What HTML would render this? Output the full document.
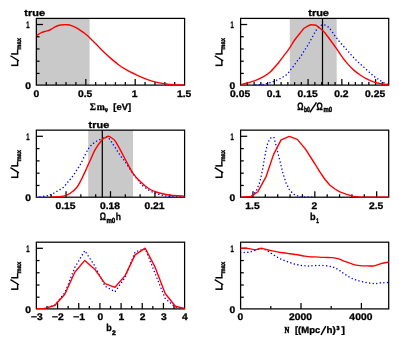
<!DOCTYPE html>
<html><head><meta charset="utf-8"><title>Likelihood panels</title><style>
html,body{margin:0;padding:0;background:#fff}
svg{display:block;will-change:transform}
.t{font-family:"Liberation Sans", sans-serif;font-weight:bold;font-size:9.6px;fill:#000;stroke:#000;stroke-width:0.3px}
.sub{font-size:6.5px}
.tt{font-size:9.4px}
.xl{font-size:9.2px}
.fr{fill:none;stroke:#000;stroke-width:1.25}
.tk{fill:none;stroke:#000;stroke-width:1.25}
.tl{fill:none;stroke:#000;stroke-width:1.25}
.r{fill:none;stroke:#f00;stroke-width:1.4;stroke-linejoin:round}
.b{fill:none;stroke:#00f;stroke-width:1.5;stroke-linecap:round;stroke-dasharray:0.01 3.6}
</style></head><body>
<svg width="399" height="345" viewBox="0 0 399 345">
<rect width="399" height="345" fill="#fff"/>
<defs>
<clipPath id="c0"><rect x="36.35" y="17.40" width="148.85" height="68.30"/></clipPath>
<clipPath id="c1"><rect x="240.60" y="17.40" width="148.70" height="68.30"/></clipPath>
<clipPath id="c2"><rect x="36.35" y="129.15" width="148.85" height="68.65"/></clipPath>
<clipPath id="c3"><rect x="240.60" y="129.15" width="148.70" height="68.65"/></clipPath>
<clipPath id="c4"><rect x="36.35" y="241.20" width="148.85" height="68.30"/></clipPath>
<clipPath id="c5"><rect x="240.60" y="241.20" width="148.70" height="68.30"/></clipPath>
</defs>
<rect fill="#c9c9c9" x="36.40" y="18.40" width="53.20" height="66.70"/>
<path class="tk" d="M46.28 85.10 v-3"/>
<path class="tk" d="M56.16 85.10 v-3"/>
<path class="tk" d="M66.04 85.10 v-3"/>
<path class="tk" d="M75.92 85.10 v-3"/>
<path class="tk" d="M95.68 85.10 v-3"/>
<path class="tk" d="M105.56 85.10 v-3"/>
<path class="tk" d="M115.44 85.10 v-3"/>
<path class="tk" d="M125.32 85.10 v-3"/>
<path class="tk" d="M145.08 85.10 v-3"/>
<path class="tk" d="M154.96 85.10 v-3"/>
<path class="tk" d="M164.84 85.10 v-3"/>
<path class="tk" d="M174.72 85.10 v-3"/>
<path class="tk" d="M85.80 85.10 v-6"/>
<path class="tk" d="M135.20 85.10 v-6"/>
<text class="t" transform="translate(36.30 96.90) skewX(0.5) scale(1.080 1)" text-anchor="middle">0</text>
<text class="t" transform="translate(85.10 96.90) skewX(0.5) scale(1.080 1)" text-anchor="middle">0.5</text>
<text class="t" transform="translate(134.70 96.90) skewX(0.5) scale(1.080 1)" text-anchor="middle">1</text>
<text class="t" transform="translate(184.10 96.90) skewX(0.5) scale(1.080 1)" text-anchor="middle">1.5</text>
<path class="tk" d="M36.35 73.42 h3.2"/>
<path class="tk" d="M36.35 61.20 h3.2"/>
<path class="tk" d="M36.35 48.97 h3.2"/>
<path class="tk" d="M36.35 36.74 h3.2"/>
<path class="tk" d="M36.35 24.51 h6.6"/>
<text class="t" transform="translate(29.65 27.76) skewX(0.5) scale(0.620 1)" text-anchor="end">1</text>
<text class="t" transform="translate(30.95 88.80) skewX(0.5) scale(1.080 1)" text-anchor="end">0</text>
<path d="M11.15 65.35 L18.25 65.35" style="fill:none;stroke:#000;stroke-width:1.55"/>
<path d="M17.60 65.35 L17.60 60.35" style="fill:none;stroke:#000;stroke-width:1.40"/>
<path d="M11.15 53.95 L18.25 53.95" style="fill:none;stroke:#000;stroke-width:1.55"/>
<path d="M17.60 53.95 L17.60 49.35" style="fill:none;stroke:#000;stroke-width:1.40"/>
<path d="M10.45 55.75 L18.95 60.95" style="fill:none;stroke:#000;stroke-width:1.45"/>
<g transform="translate(21.15 49.65) rotate(-90)">
<text transform="translate(0.00 0.00) skewX(0.5)" style="font-family:'Liberation Sans', sans-serif;font-weight:bold;font-size:6.70px;stroke:#000;stroke-width:0.40px" textLength="11.60" lengthAdjust="spacingAndGlyphs">max</text>
</g>
<rect class="fr" x="36.35" y="18.40" width="148.25" height="66.70"/>
<g clip-path="url(#c0)">
<path class="r" d="M36.40 35.60 C37.32 35.07 40.30 33.13 41.90 32.40 C43.50 31.67 44.68 31.60 46.00 31.20 C47.32 30.80 48.18 30.77 49.80 30.00 C51.42 29.23 54.08 27.40 55.70 26.60 C57.32 25.80 58.18 25.52 59.50 25.20 C60.82 24.88 62.27 24.77 63.60 24.70 C64.93 24.63 66.20 24.65 67.50 24.80 C68.80 24.95 70.07 25.18 71.40 25.60 C72.73 26.02 74.13 26.60 75.50 27.30 C76.87 28.00 78.23 28.92 79.60 29.80 C80.97 30.68 82.37 31.62 83.70 32.60 C85.03 33.58 85.63 33.87 87.60 35.70 C89.57 37.53 92.88 40.97 95.50 43.60 C98.12 46.23 100.75 49.03 103.30 51.50 C105.85 53.97 108.15 56.12 110.80 58.40 C113.45 60.68 116.50 63.23 119.20 65.20 C121.90 67.17 124.40 68.72 127.00 70.20 C129.60 71.68 132.22 72.87 134.80 74.10 C137.38 75.33 139.90 76.52 142.50 77.60 C145.10 78.68 147.78 79.77 150.40 80.60 C153.02 81.43 155.58 82.03 158.20 82.60 C160.82 83.17 163.47 83.65 166.10 84.00 C168.73 84.35 170.92 84.52 174.00 84.70 C177.08 84.88 182.83 85.03 184.60 85.10"/>
</g>
<text class="t tt" transform="translate(34.70 15.50) skewX(0.5) scale(1.170 1)" text-anchor="middle">true</text>
<text transform="translate(89.80 109.65) skewX(0.5)" style="font-family:'Liberation Serif', serif;font-weight:bold;font-size:10.00px;stroke:#000;stroke-width:0.30px" textLength="6.20" lengthAdjust="spacingAndGlyphs">&#931;</text>
<text transform="translate(96.65 109.65) skewX(0.5)" style="font-family:'Liberation Serif', serif;font-weight:bold;font-size:10.00px;stroke:#000;stroke-width:0.30px" textLength="8.15" lengthAdjust="spacingAndGlyphs">m</text>
<text transform="translate(104.90 111.50) skewX(0.5)" style="font-family:'Liberation Sans', sans-serif;font-weight:bold;font-size:6.50px;stroke:#000;stroke-width:0.60px" textLength="2.80" lengthAdjust="spacingAndGlyphs">&#957;</text>
<text transform="translate(113.30 109.65) skewX(0.5)" style="font-family:'Liberation Sans', sans-serif;font-weight:bold;font-size:9.20px;stroke:#000;stroke-width:0.30px" textLength="17.80" lengthAdjust="spacingAndGlyphs">[eV]</text>
<rect fill="#c9c9c9" x="289.80" y="18.40" width="46.90" height="66.70"/>
<path class="tk" d="M247.35 85.10 v-3"/>
<path class="tk" d="M254.10 85.10 v-3"/>
<path class="tk" d="M260.85 85.10 v-3"/>
<path class="tk" d="M267.60 85.10 v-3"/>
<path class="tk" d="M281.10 85.10 v-3"/>
<path class="tk" d="M287.85 85.10 v-3"/>
<path class="tk" d="M294.60 85.10 v-3"/>
<path class="tk" d="M301.35 85.10 v-3"/>
<path class="tk" d="M314.85 85.10 v-3"/>
<path class="tk" d="M321.60 85.10 v-3"/>
<path class="tk" d="M328.35 85.10 v-3"/>
<path class="tk" d="M335.10 85.10 v-3"/>
<path class="tk" d="M348.60 85.10 v-3"/>
<path class="tk" d="M355.35 85.10 v-3"/>
<path class="tk" d="M362.10 85.10 v-3"/>
<path class="tk" d="M368.85 85.10 v-3"/>
<path class="tk" d="M382.35 85.10 v-3"/>
<path class="tk" d="M274.35 85.10 v-6"/>
<path class="tk" d="M308.10 85.10 v-6"/>
<path class="tk" d="M341.85 85.10 v-6"/>
<path class="tk" d="M375.60 85.10 v-6"/>
<text class="t" transform="translate(240.10 96.90) skewX(0.5) scale(1.080 1)" text-anchor="middle">0.05</text>
<text class="t" transform="translate(273.85 96.90) skewX(0.5) scale(1.080 1)" text-anchor="middle">0.1</text>
<text class="t" transform="translate(307.60 96.90) skewX(0.5) scale(1.080 1)" text-anchor="middle">0.15</text>
<text class="t" transform="translate(341.35 96.90) skewX(0.5) scale(1.080 1)" text-anchor="middle">0.2</text>
<text class="t" transform="translate(375.10 96.90) skewX(0.5) scale(1.080 1)" text-anchor="middle">0.25</text>
<path class="tk" d="M240.60 73.42 h3.2"/>
<path class="tk" d="M240.60 61.20 h3.2"/>
<path class="tk" d="M240.60 48.97 h3.2"/>
<path class="tk" d="M240.60 36.74 h3.2"/>
<path class="tk" d="M240.60 24.51 h6.6"/>
<text class="t" transform="translate(233.90 27.76) skewX(0.5) scale(0.620 1)" text-anchor="end">1</text>
<text class="t" transform="translate(235.20 88.80) skewX(0.5) scale(1.080 1)" text-anchor="end">0</text>
<path d="M215.40 65.35 L222.50 65.35" style="fill:none;stroke:#000;stroke-width:1.55"/>
<path d="M221.85 65.35 L221.85 60.35" style="fill:none;stroke:#000;stroke-width:1.40"/>
<path d="M215.40 53.95 L222.50 53.95" style="fill:none;stroke:#000;stroke-width:1.55"/>
<path d="M221.85 53.95 L221.85 49.35" style="fill:none;stroke:#000;stroke-width:1.40"/>
<path d="M214.70 55.75 L223.20 60.95" style="fill:none;stroke:#000;stroke-width:1.45"/>
<g transform="translate(225.40 49.65) rotate(-90)">
<text transform="translate(0.00 0.00) skewX(0.5)" style="font-family:'Liberation Sans', sans-serif;font-weight:bold;font-size:6.70px;stroke:#000;stroke-width:0.40px" textLength="11.60" lengthAdjust="spacingAndGlyphs">max</text>
</g>
<path class="tl" d="M322.50 18.40 V85.10"/>
<text class="t tt" transform="translate(318.60 15.50) skewX(0.5) scale(1.170 1)" text-anchor="middle">true</text>
<rect class="fr" x="240.60" y="18.40" width="148.10" height="66.70"/>
<g clip-path="url(#c1)">
<path class="b" d="M255.80 85.10 C257.07 85.00 261.52 84.75 263.40 84.50 C265.28 84.25 265.85 83.93 267.10 83.60 C268.35 83.27 269.63 82.93 270.90 82.50 C272.17 82.07 273.18 81.63 274.70 81.00 C276.22 80.37 278.50 79.45 280.00 78.70 C281.50 77.95 282.57 77.20 283.70 76.50 C284.83 75.80 285.92 75.25 286.80 74.50 C287.68 73.75 288.25 72.95 289.00 72.00 C289.75 71.05 290.55 69.77 291.30 68.80 C292.05 67.83 292.75 67.18 293.50 66.20 C294.25 65.22 295.03 63.95 295.80 62.90 C296.57 61.85 297.43 60.75 298.10 59.90 C298.77 59.05 298.85 59.20 299.80 57.80 C300.75 56.40 302.45 53.62 303.80 51.50 C305.15 49.38 306.53 47.40 307.90 45.10 C309.27 42.80 310.62 40.20 312.00 37.70 C313.38 35.20 315.12 31.82 316.20 30.10 C317.28 28.38 317.75 28.17 318.50 27.40 C319.25 26.63 319.83 25.93 320.70 25.50 C321.57 25.07 322.68 24.72 323.70 24.80 C324.72 24.88 325.78 25.37 326.80 26.00 C327.82 26.63 328.52 27.07 329.80 28.60 C331.08 30.13 332.97 33.13 334.50 35.20 C336.03 37.27 337.48 39.15 339.00 41.00 C340.52 42.85 342.08 44.58 343.60 46.30 C345.12 48.02 346.60 49.62 348.10 51.30 C349.60 52.98 351.10 54.77 352.60 56.40 C354.10 58.03 355.58 59.63 357.10 61.10 C358.62 62.57 360.18 63.82 361.70 65.20 C363.22 66.58 364.70 68.02 366.20 69.40 C367.70 70.78 369.20 72.20 370.70 73.50 C372.20 74.80 373.68 76.08 375.20 77.20 C376.72 78.32 378.28 79.23 379.80 80.20 C381.32 81.17 382.83 82.23 384.30 83.00 C385.77 83.77 387.88 84.50 388.60 84.80"/>
<path class="r" d="M240.60 84.80 C241.75 84.50 245.08 83.68 247.50 83.00 C249.92 82.32 252.58 81.67 255.10 80.70 C257.62 79.73 260.08 78.65 262.60 77.20 C265.12 75.75 267.68 74.25 270.20 72.00 C272.72 69.75 275.20 66.72 277.70 63.70 C280.20 60.68 283.23 56.48 285.20 53.90 C287.17 51.32 287.87 50.60 289.50 48.20 C291.13 45.80 293.25 42.00 295.00 39.50 C296.75 37.00 298.48 35.07 300.00 33.20 C301.52 31.33 302.85 29.47 304.10 28.30 C305.35 27.13 306.37 26.78 307.50 26.20 C308.63 25.62 309.82 25.00 310.90 24.80 C311.98 24.60 312.99 24.83 314.00 25.00 C315.01 25.17 315.95 25.27 316.95 25.80 C317.95 26.33 318.88 27.23 320.00 28.20 C321.12 29.17 322.45 30.25 323.70 31.60 C324.95 32.95 326.28 34.73 327.50 36.30 C328.72 37.87 329.58 39.08 331.00 41.00 C332.42 42.92 334.15 45.15 336.00 47.80 C337.85 50.45 340.08 54.13 342.10 56.90 C344.12 59.67 346.10 62.15 348.10 64.40 C350.10 66.65 352.08 68.63 354.10 70.40 C356.12 72.17 358.18 73.62 360.20 75.00 C362.22 76.38 364.20 77.65 366.20 78.70 C368.20 79.75 370.18 80.53 372.20 81.30 C374.22 82.07 376.28 82.80 378.30 83.30 C380.32 83.80 382.58 84.05 384.30 84.30 C386.02 84.55 387.88 84.72 388.60 84.80"/>
</g>
<text transform="translate(297.15 109.50) skewX(0.5)" style="font-family:'Liberation Sans', sans-serif;font-weight:bold;font-size:10.80px;stroke:#000;stroke-width:0.30px" textLength="6.30" lengthAdjust="spacingAndGlyphs">&#937;</text>
<text transform="translate(304.00 112.15) skewX(0.5)" style="font-family:'Liberation Sans', sans-serif;font-weight:bold;font-size:7.40px;stroke:#000;stroke-width:0.50px" textLength="5.90" lengthAdjust="spacingAndGlyphs">b0</text>
<path d="M309.90 112.30 L316.50 102.30" style="fill:none;stroke:#000;stroke-width:1.50"/>
<text transform="translate(316.60 109.50) skewX(0.5)" style="font-family:'Liberation Sans', sans-serif;font-weight:bold;font-size:10.80px;stroke:#000;stroke-width:0.30px" textLength="6.30" lengthAdjust="spacingAndGlyphs">&#937;</text>
<text transform="translate(323.50 112.15) skewX(0.5)" style="font-family:'Liberation Sans', sans-serif;font-weight:bold;font-size:7.40px;stroke:#000;stroke-width:0.50px" textLength="8.60" lengthAdjust="spacingAndGlyphs">m0</text>
<rect fill="#c9c9c9" x="88.20" y="130.15" width="44.80" height="67.05"/>
<path class="tk" d="M51.22 197.20 v-3"/>
<path class="tk" d="M80.86 197.20 v-3"/>
<path class="tk" d="M95.68 197.20 v-3"/>
<path class="tk" d="M125.32 197.20 v-3"/>
<path class="tk" d="M140.14 197.20 v-3"/>
<path class="tk" d="M169.78 197.20 v-3"/>
<path class="tk" d="M66.04 197.20 v-6"/>
<path class="tk" d="M110.50 197.20 v-6"/>
<path class="tk" d="M154.96 197.20 v-6"/>
<text class="t" transform="translate(65.54 208.65) skewX(0.5) scale(1.080 1)" text-anchor="middle">0.15</text>
<text class="t" transform="translate(110.00 208.65) skewX(0.5) scale(1.080 1)" text-anchor="middle">0.18</text>
<text class="t" transform="translate(154.46 208.65) skewX(0.5) scale(1.080 1)" text-anchor="middle">0.21</text>
<path class="tk" d="M36.35 185.46 h3.2"/>
<path class="tk" d="M36.35 173.17 h3.2"/>
<path class="tk" d="M36.35 160.88 h3.2"/>
<path class="tk" d="M36.35 148.59 h3.2"/>
<path class="tk" d="M36.35 136.30 h6.6"/>
<text class="t" transform="translate(29.65 139.55) skewX(0.5) scale(0.620 1)" text-anchor="end">1</text>
<text class="t" transform="translate(30.95 200.90) skewX(0.5) scale(1.080 1)" text-anchor="end">0</text>
<path d="M11.15 177.28 L18.25 177.28" style="fill:none;stroke:#000;stroke-width:1.55"/>
<path d="M17.60 177.28 L17.60 172.28" style="fill:none;stroke:#000;stroke-width:1.40"/>
<path d="M11.15 165.88 L18.25 165.88" style="fill:none;stroke:#000;stroke-width:1.55"/>
<path d="M17.60 165.88 L17.60 161.28" style="fill:none;stroke:#000;stroke-width:1.40"/>
<path d="M10.45 167.68 L18.95 172.88" style="fill:none;stroke:#000;stroke-width:1.45"/>
<g transform="translate(21.15 161.58) rotate(-90)">
<text transform="translate(0.00 0.00) skewX(0.5)" style="font-family:'Liberation Sans', sans-serif;font-weight:bold;font-size:6.70px;stroke:#000;stroke-width:0.40px" textLength="11.60" lengthAdjust="spacingAndGlyphs">max</text>
</g>
<path class="tl" d="M102.30 130.15 V197.20"/>
<text class="t tt" transform="translate(99.00 127.95) skewX(0.5) scale(1.170 1)" text-anchor="middle">true</text>
<rect class="fr" x="36.35" y="130.15" width="148.25" height="67.05"/>
<g clip-path="url(#c2)">
<path class="b" d="M36.40 197.00 C37.84 196.85 42.60 196.50 45.05 196.10 C47.50 195.70 49.09 195.42 51.10 194.60 C53.11 193.78 55.10 192.38 57.10 191.20 C59.10 190.02 61.33 189.00 63.10 187.50 C64.87 186.00 66.18 183.97 67.70 182.20 C69.22 180.43 70.70 178.92 72.20 176.90 C73.70 174.88 75.30 172.23 76.70 170.10 C78.10 167.97 79.20 166.63 80.60 164.10 C82.00 161.57 83.72 157.58 85.10 154.90 C86.48 152.22 87.62 149.85 88.90 148.00 C90.18 146.15 91.27 145.07 92.80 143.80 C94.33 142.53 96.22 141.40 98.10 140.40 C99.98 139.40 102.70 138.37 104.10 137.80 C105.50 137.23 105.77 137.00 106.50 137.00 C107.23 137.00 107.63 136.92 108.50 137.80 C109.37 138.68 110.42 140.42 111.70 142.30 C112.98 144.18 114.70 146.83 116.20 149.10 C117.70 151.37 119.15 153.72 120.70 155.90 C122.25 158.08 123.98 160.03 125.50 162.20 C127.02 164.37 128.38 166.73 129.80 168.90 C131.22 171.07 132.50 173.22 134.00 175.20 C135.50 177.18 137.62 179.33 138.80 180.80 C139.98 182.27 139.47 182.47 141.10 184.00 C142.73 185.53 146.08 188.42 148.60 190.00 C151.12 191.58 153.68 192.58 156.20 193.50 C158.72 194.42 161.20 195.00 163.70 195.50 C166.20 196.00 167.72 196.25 171.20 196.50 C174.68 196.75 182.37 196.92 184.60 197.00"/>
<path class="r" d="M51.10 197.00 C53.10 196.85 59.97 196.68 63.10 196.10 C66.23 195.52 67.63 194.93 69.90 193.50 C72.17 192.07 74.80 189.82 76.70 187.50 C78.60 185.18 79.78 182.50 81.30 179.60 C82.82 176.70 84.63 172.63 85.80 170.10 C86.97 167.57 87.55 166.03 88.30 164.40 C89.05 162.77 89.13 162.80 90.30 160.30 C91.47 157.80 93.32 152.82 95.30 149.40 C97.28 145.98 100.53 141.77 102.20 139.80 C103.87 137.83 104.27 138.18 105.30 137.60 C106.33 137.02 107.37 136.27 108.40 136.30 C109.43 136.33 110.33 136.97 111.50 137.80 C112.67 138.63 113.87 139.17 115.40 141.30 C116.93 143.43 118.87 147.23 120.70 150.60 C122.53 153.97 124.32 157.67 126.40 161.50 C128.48 165.33 130.85 170.22 133.20 173.60 C135.55 176.98 137.93 179.32 140.50 181.80 C143.07 184.28 145.98 186.80 148.60 188.50 C151.22 190.20 153.68 191.08 156.20 192.00 C158.72 192.92 161.20 193.47 163.70 194.00 C166.20 194.53 167.72 194.85 171.20 195.20 C174.68 195.55 182.37 195.95 184.60 196.10"/>
</g>
<text transform="translate(99.80 220.40) skewX(0.5)" style="font-family:'Liberation Sans', sans-serif;font-weight:bold;font-size:10.80px;stroke:#000;stroke-width:0.30px" textLength="6.30" lengthAdjust="spacingAndGlyphs">&#937;</text>
<text transform="translate(106.40 223.30) skewX(0.5)" style="font-family:'Liberation Sans', sans-serif;font-weight:bold;font-size:7.40px;stroke:#000;stroke-width:0.50px" textLength="8.90" lengthAdjust="spacingAndGlyphs">m0</text>
<text transform="translate(115.80 220.40) skewX(0.5)" style="font-family:'Liberation Sans', sans-serif;font-weight:bold;font-size:10.00px;stroke:#000;stroke-width:0.30px" textLength="5.30" lengthAdjust="spacingAndGlyphs">h</text>
<path class="tk" d="M265.34 197.20 v-3"/>
<path class="tk" d="M277.71 197.20 v-3"/>
<path class="tk" d="M290.08 197.20 v-3"/>
<path class="tk" d="M302.45 197.20 v-3"/>
<path class="tk" d="M327.19 197.20 v-3"/>
<path class="tk" d="M339.56 197.20 v-3"/>
<path class="tk" d="M351.93 197.20 v-3"/>
<path class="tk" d="M364.30 197.20 v-3"/>
<path class="tk" d="M252.97 197.20 v-6"/>
<path class="tk" d="M314.82 197.20 v-6"/>
<path class="tk" d="M376.67 197.20 v-6"/>
<text class="t" transform="translate(252.47 208.65) skewX(0.5) scale(1.080 1)" text-anchor="middle">1.5</text>
<text class="t" transform="translate(314.32 208.65) skewX(0.5) scale(1.080 1)" text-anchor="middle">2</text>
<text class="t" transform="translate(376.17 208.65) skewX(0.5) scale(1.080 1)" text-anchor="middle">2.5</text>
<path class="tk" d="M240.60 185.46 h3.2"/>
<path class="tk" d="M240.60 173.17 h3.2"/>
<path class="tk" d="M240.60 160.88 h3.2"/>
<path class="tk" d="M240.60 148.59 h3.2"/>
<path class="tk" d="M240.60 136.30 h6.6"/>
<text class="t" transform="translate(233.90 139.55) skewX(0.5) scale(0.620 1)" text-anchor="end">1</text>
<text class="t" transform="translate(235.20 200.90) skewX(0.5) scale(1.080 1)" text-anchor="end">0</text>
<path d="M215.40 177.28 L222.50 177.28" style="fill:none;stroke:#000;stroke-width:1.55"/>
<path d="M221.85 177.28 L221.85 172.28" style="fill:none;stroke:#000;stroke-width:1.40"/>
<path d="M215.40 165.88 L222.50 165.88" style="fill:none;stroke:#000;stroke-width:1.55"/>
<path d="M221.85 165.88 L221.85 161.28" style="fill:none;stroke:#000;stroke-width:1.40"/>
<path d="M214.70 167.68 L223.20 172.88" style="fill:none;stroke:#000;stroke-width:1.45"/>
<g transform="translate(225.40 161.58) rotate(-90)">
<text transform="translate(0.00 0.00) skewX(0.5)" style="font-family:'Liberation Sans', sans-serif;font-weight:bold;font-size:6.70px;stroke:#000;stroke-width:0.40px" textLength="11.60" lengthAdjust="spacingAndGlyphs">max</text>
</g>
<rect class="fr" x="240.60" y="130.15" width="148.10" height="67.05"/>
<g clip-path="url(#c3)">
<path class="b" d="M251.2 196.9 L256.2 191.2 L259.9 181.8 L262.3 171.0 L264.1 160.4 L265.9 150.6 L267.9 142.3 L270.9 137.8 L273.9 137.3 L276.2 146.1 L277.9 153.0 L280.4 163.1 L282.9 173.0 L286.1 183.0 L289.8 190.5 L294.8 195.0 L301.0 196.9 L314.5 197.1" stroke-dashoffset="1.8"/>
<path class="r" d="M240.6 197.2 L251.2 196.4 L257.9 191.7 L266.2 176.3 L273.6 154.4 L281.1 139.9 L289.3 136.4 L297.3 139.4 L305.3 148.9 L315.0 164.0 L320.0 172.2 L325.0 179.5 L330.0 185.2 L334.9 189.0 L339.9 191.8 L346.1 194.2 L352.4 196.1 L359.9 197.1 L389.0 197.2"/>
</g>
<text transform="translate(310.05 220.00) skewX(0.5)" style="font-family:'Liberation Sans', sans-serif;font-weight:bold;font-size:10.00px;stroke:#000;stroke-width:0.30px" textLength="5.65" lengthAdjust="spacingAndGlyphs">b</text>
<text transform="translate(316.20 223.30) skewX(0.5)" style="font-family:'Liberation Sans', sans-serif;font-weight:bold;font-size:6.70px;stroke:#000;stroke-width:0.50px" textLength="2.60" lengthAdjust="spacingAndGlyphs">1</text>
<path class="tk" d="M46.99 308.90 v-3"/>
<path class="tk" d="M68.16 308.90 v-3"/>
<path class="tk" d="M89.33 308.90 v-3"/>
<path class="tk" d="M110.50 308.90 v-3"/>
<path class="tk" d="M131.67 308.90 v-3"/>
<path class="tk" d="M152.84 308.90 v-3"/>
<path class="tk" d="M174.01 308.90 v-3"/>
<path class="tk" d="M57.57 308.90 v-6"/>
<path class="tk" d="M78.74 308.90 v-6"/>
<path class="tk" d="M99.91 308.90 v-6"/>
<path class="tk" d="M121.09 308.90 v-6"/>
<path class="tk" d="M142.26 308.90 v-6"/>
<path class="tk" d="M163.43 308.90 v-6"/>
<text class="t" transform="translate(36.80 320.35) skewX(0.5) scale(1.080 1)" text-anchor="middle">&#8722;3</text>
<text class="t" transform="translate(57.97 320.35) skewX(0.5) scale(1.080 1)" text-anchor="middle">&#8722;2</text>
<text class="t" transform="translate(79.14 320.35) skewX(0.5) scale(1.080 1)" text-anchor="middle">&#8722;1</text>
<text class="t" transform="translate(100.31 320.35) skewX(0.5) scale(1.080 1)" text-anchor="middle">0</text>
<text class="t" transform="translate(121.49 320.35) skewX(0.5) scale(1.080 1)" text-anchor="middle">1</text>
<text class="t" transform="translate(142.66 320.35) skewX(0.5) scale(1.080 1)" text-anchor="middle">2</text>
<text class="t" transform="translate(163.83 320.35) skewX(0.5) scale(1.080 1)" text-anchor="middle">3</text>
<text class="t" transform="translate(185.00 320.35) skewX(0.5) scale(1.080 1)" text-anchor="middle">4</text>
<path class="tk" d="M36.35 297.22 h3.2"/>
<path class="tk" d="M36.35 285.00 h3.2"/>
<path class="tk" d="M36.35 272.77 h3.2"/>
<path class="tk" d="M36.35 260.54 h3.2"/>
<path class="tk" d="M36.35 248.31 h6.6"/>
<text class="t" transform="translate(29.65 251.56) skewX(0.5) scale(0.620 1)" text-anchor="end">1</text>
<text class="t" transform="translate(30.95 312.60) skewX(0.5) scale(1.080 1)" text-anchor="end">0</text>
<path d="M11.15 289.15 L18.25 289.15" style="fill:none;stroke:#000;stroke-width:1.55"/>
<path d="M17.60 289.15 L17.60 284.15" style="fill:none;stroke:#000;stroke-width:1.40"/>
<path d="M11.15 277.75 L18.25 277.75" style="fill:none;stroke:#000;stroke-width:1.55"/>
<path d="M17.60 277.75 L17.60 273.15" style="fill:none;stroke:#000;stroke-width:1.40"/>
<path d="M10.45 279.55 L18.95 284.75" style="fill:none;stroke:#000;stroke-width:1.45"/>
<g transform="translate(21.15 273.45) rotate(-90)">
<text transform="translate(0.00 0.00) skewX(0.5)" style="font-family:'Liberation Sans', sans-serif;font-weight:bold;font-size:6.70px;stroke:#000;stroke-width:0.40px" textLength="11.60" lengthAdjust="spacingAndGlyphs">max</text>
</g>
<rect class="fr" x="36.35" y="242.20" width="148.25" height="66.70"/>
<g clip-path="url(#c4)">
<path class="b" d="M44.7 308.6 L54.7 305.2 L64.8 292.8 L74.8 267.4 L84.8 250.7 L94.9 266.1 L105.0 286.1 L115.0 291.8 L125.1 277.3 L135.1 251.9 L145.2 248.7 L155.2 273.6 L165.2 298.5 L175.3 307.2 L185.3 308.9"/>
<path class="r" d="M34.6 308.7 L44.7 308.4 L54.7 305.5 L64.8 294.3 L74.8 272.3 L84.8 260.4 L94.9 269.4 L105.0 283.6 L115.0 287.3 L125.1 275.6 L135.1 254.9 L145.2 248.2 L155.2 267.4 L165.2 293.5 L175.3 306.2 L185.3 308.6"/>
</g>
<text transform="translate(106.30 331.40) skewX(0.5)" style="font-family:'Liberation Sans', sans-serif;font-weight:bold;font-size:10.00px;stroke:#000;stroke-width:0.30px" textLength="5.50" lengthAdjust="spacingAndGlyphs">b</text>
<text transform="translate(111.90 334.50) skewX(0.5)" style="font-family:'Liberation Sans', sans-serif;font-weight:bold;font-size:6.70px;stroke:#000;stroke-width:0.50px" textLength="3.80" lengthAdjust="spacingAndGlyphs">2</text>
<path class="tk" d="M270.80 308.90 v-3"/>
<path class="tk" d="M331.20 308.90 v-3"/>
<path class="tk" d="M301.00 308.90 v-6"/>
<path class="tk" d="M361.40 308.90 v-6"/>
<text class="t" transform="translate(240.50 320.35) skewX(0.5) scale(1.080 1)" text-anchor="middle">0</text>
<text class="t" transform="translate(300.50 320.35) skewX(0.5) scale(1.080 1)" text-anchor="middle">2000</text>
<text class="t" transform="translate(360.90 320.35) skewX(0.5) scale(1.080 1)" text-anchor="middle">4000</text>
<path class="tk" d="M240.60 297.22 h3.2"/>
<path class="tk" d="M240.60 285.00 h3.2"/>
<path class="tk" d="M240.60 272.77 h3.2"/>
<path class="tk" d="M240.60 260.54 h3.2"/>
<path class="tk" d="M240.60 248.31 h6.6"/>
<text class="t" transform="translate(233.90 251.56) skewX(0.5) scale(0.620 1)" text-anchor="end">1</text>
<text class="t" transform="translate(235.20 312.60) skewX(0.5) scale(1.080 1)" text-anchor="end">0</text>
<path d="M215.40 289.15 L222.50 289.15" style="fill:none;stroke:#000;stroke-width:1.55"/>
<path d="M221.85 289.15 L221.85 284.15" style="fill:none;stroke:#000;stroke-width:1.40"/>
<path d="M215.40 277.75 L222.50 277.75" style="fill:none;stroke:#000;stroke-width:1.55"/>
<path d="M221.85 277.75 L221.85 273.15" style="fill:none;stroke:#000;stroke-width:1.40"/>
<path d="M214.70 279.55 L223.20 284.75" style="fill:none;stroke:#000;stroke-width:1.45"/>
<g transform="translate(225.40 273.45) rotate(-90)">
<text transform="translate(0.00 0.00) skewX(0.5)" style="font-family:'Liberation Sans', sans-serif;font-weight:bold;font-size:6.70px;stroke:#000;stroke-width:0.40px" textLength="11.60" lengthAdjust="spacingAndGlyphs">max</text>
</g>
<rect class="fr" x="240.60" y="242.20" width="148.10" height="66.70"/>
<g clip-path="url(#c5)">
<path class="b" d="M240.60 252.40 C241.75 252.40 245.32 252.65 247.50 252.40 C249.68 252.15 251.42 251.52 253.70 250.90 C255.98 250.28 258.92 248.70 261.20 248.70 C263.48 248.70 265.33 249.87 267.40 250.90 C269.47 251.93 271.52 253.62 273.60 254.90 C275.68 256.18 277.62 257.48 279.90 258.60 C282.18 259.72 284.82 260.68 287.30 261.60 C289.78 262.52 292.30 263.43 294.80 264.10 C297.30 264.77 300.02 265.30 302.30 265.60 C304.58 265.90 306.38 265.90 308.50 265.90 C310.62 265.90 312.47 265.65 315.00 265.60 C317.53 265.55 320.80 265.38 323.70 265.60 C326.60 265.82 329.90 266.18 332.40 266.90 C334.90 267.62 336.62 268.67 338.70 269.90 C340.78 271.13 342.62 272.85 344.90 274.30 C347.18 275.75 349.90 277.47 352.40 278.60 C354.90 279.73 357.42 280.43 359.90 281.10 C362.38 281.77 364.90 282.18 367.30 282.60 C369.70 283.02 372.02 283.57 374.30 283.60 C376.58 283.63 378.55 282.97 381.00 282.80 C383.45 282.63 387.67 282.63 389.00 282.60"/>
<path class="r" d="M240.60 248.40 C241.75 248.40 245.10 248.18 247.50 248.40 C249.90 248.62 253.25 249.57 255.00 249.70 C256.75 249.83 256.97 249.45 258.00 249.20 C259.03 248.95 260.20 248.25 261.20 248.20 C262.20 248.15 262.97 248.65 264.00 248.90 C265.03 249.15 265.58 249.28 267.40 249.70 C269.22 250.12 272.40 250.90 274.90 251.40 C277.40 251.90 279.92 252.32 282.40 252.70 C284.88 253.08 287.32 253.37 289.80 253.70 C292.28 254.03 294.80 254.30 297.30 254.70 C299.80 255.10 302.52 255.73 304.80 256.10 C307.08 256.47 309.30 256.77 311.00 256.90 C312.70 257.03 312.88 256.82 315.00 256.90 C317.12 256.98 320.80 257.28 323.70 257.40 C326.60 257.52 329.90 257.35 332.40 257.60 C334.90 257.85 336.62 258.27 338.70 258.90 C340.78 259.53 342.62 260.53 344.90 261.40 C347.18 262.27 349.90 263.40 352.40 264.10 C354.90 264.80 357.42 265.30 359.90 265.60 C362.38 265.90 364.90 265.85 367.30 265.90 C369.70 265.95 372.02 266.28 374.30 265.90 C376.58 265.52 378.55 264.27 381.00 263.60 C383.45 262.93 387.67 262.18 389.00 261.90"/>
</g>
<text transform="translate(284.40 333.10) skewX(0.5)" style="font-family:'Liberation Serif', serif;font-weight:bold;font-size:9.20px;stroke:#000;stroke-width:0.60px" textLength="4.80" lengthAdjust="spacingAndGlyphs">N</text>
<text transform="translate(294.90 333.10) skewX(0.5)" style="font-family:'Liberation Sans', sans-serif;font-weight:bold;font-size:9.20px;stroke:#000;stroke-width:0.30px" textLength="25.40" lengthAdjust="spacingAndGlyphs">[(Mpc</text>
<path d="M321.00 335.00 L325.80 326.20" style="fill:none;stroke:#000;stroke-width:1.50"/>
<text transform="translate(326.50 333.10) skewX(0.5)" style="font-family:'Liberation Sans', sans-serif;font-weight:bold;font-size:9.20px;stroke:#000;stroke-width:0.30px" textLength="9.30" lengthAdjust="spacingAndGlyphs">h)</text>
<text transform="translate(336.40 330.30) skewX(0.5)" style="font-family:'Liberation Sans', sans-serif;font-weight:bold;font-size:5.80px;stroke:#000;stroke-width:0.50px" textLength="3.00" lengthAdjust="spacingAndGlyphs">3</text>
<text transform="translate(341.40 333.10) skewX(0.5)" style="font-family:'Liberation Sans', sans-serif;font-weight:bold;font-size:9.20px;stroke:#000;stroke-width:0.30px" textLength="3.40" lengthAdjust="spacingAndGlyphs">]</text>
</svg></body></html>
